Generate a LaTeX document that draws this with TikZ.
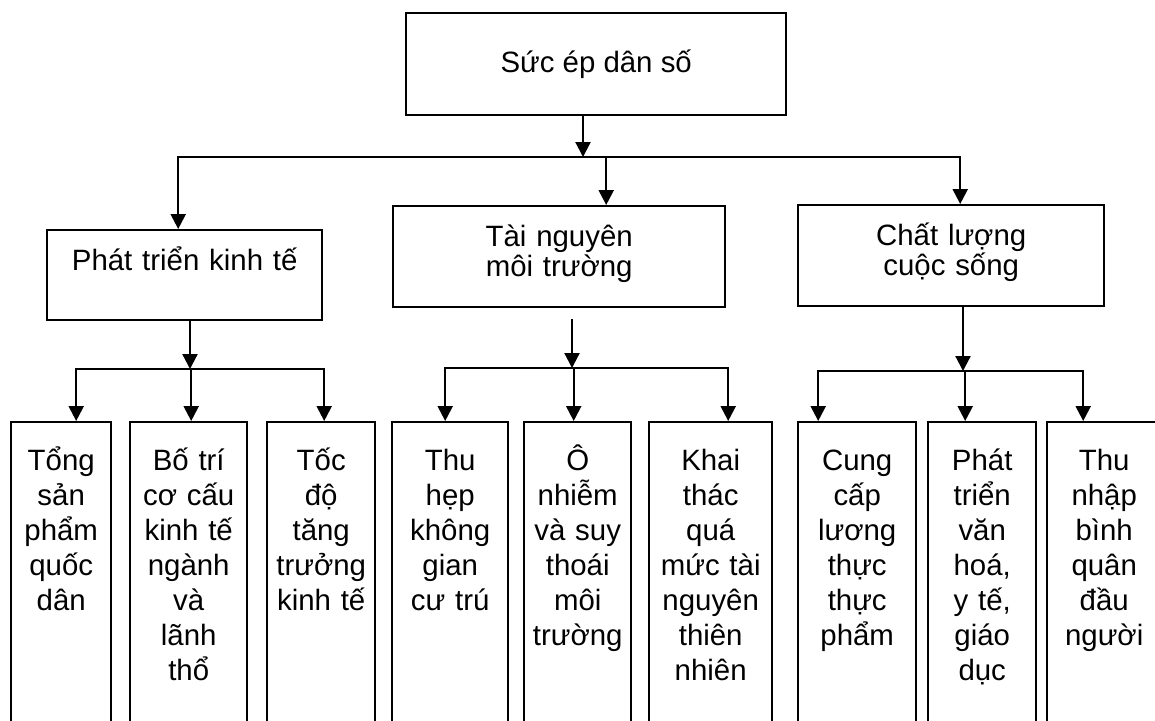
\documentclass[tikz,border=0pt]{standalone}
\usepackage{fontspec}
\setmainfont{Liberation Sans}
\usetikzlibrary{arrows.meta,calc}

\begin{document}
\begin{tikzpicture}[x=0.5pt, y=-0.5pt,
  box/.style={draw, line width=1.2pt, anchor=north west, align=center, inner xsep=0pt},
  rootbox/.style={box, minimum width=190pt, minimum height=51pt, inner sep=0pt, font=\fontsize{14.7}{15}\selectfont},
  midbox/.style={box, inner ysep=9pt, text height=11pt, font=\fontsize{14.7}{15}\selectfont},
  leaf/.style={box, inner ysep=12pt, text height=12pt, text depth=115pt, text width=#1, font=\fontsize{14.7}{17.5}\selectfont},
  arr/.style={line width=1.1pt, -{Triangle[length=7.5pt,width=7.5pt]}}]
\useasboundingbox (0,0) rectangle (1155,720);

\node[rootbox](S)at(405,12){Sức ép dân số};
\node[midbox, text width=137.5pt, text depth=16pt](P)at(46,229){Phát triển kinh tế};
\node[midbox, text width=166pt, text depth=21.5pt](T)at(392,205){Tài nguyên\\môi trường};
\node[midbox, text width=153pt, text depth=21.5pt](C)at(797,204){Chất lượng\\cuộc sống};

\node[leaf=50pt](P1)at(10,421){Tổng\\sản\\phẩm\\quốc\\dân};
\node[leaf=58.5pt](P2)at(129,421){Bố trí\\cơ cấu\\kinh tế\\ngành\\và\\lãnh\\thổ};
\node[leaf=54pt](P3)at(266,421){Tốc\\độ\\tăng\\trưởng\\kinh tế};
\node[leaf=58pt](T1)at(391,421){Thu\\hẹp\\không\\gian\\cư trú};
\node[leaf=53.5pt](T2)at(523,421){Ô\\nhiễm\\và suy\\thoái\\môi\\trường};
\node[leaf=61.5pt](T3)at(648,421){Khai\\thác\\quá\\mức tài\\nguyên\\thiên\\nhiên};
\node[leaf=59pt](C1)at(797,421){Cung\\cấp\\lương\\thực\\thực\\phẩm};
\node[leaf=54pt](C2)at(927,421){Phát\\triển\\văn\\hoá,\\y tế,\\giáo\\dục};
\node[leaf=57pt](C3)at(1046,421){Thu\\nhập\\bình\\quân\\đầu\\người};

\coordinate(J)at(583,157);
\draw[arr](S.south -| J)--(J);
\draw[arr](J)-|([xshift=-3.25pt]P.north);
\draw[arr](J)-|([xshift=23.5pt]T.north);
\draw[arr](J)-|([xshift=4.5pt]C.north);

\coordinate(JP)at(190,369);
\draw[arr](P.south -| JP)--(JP);
\draw[arr](JP)-|([xshift=7.5pt]P1.north);
\draw[arr](JP)-|([xshift=1.25pt]P2.north);
\draw[arr](JP)-|([xshift=1.5pt]P3.north);

\coordinate(JT)at(572,368);
\draw[arr]($(T.south -| JT)+(0,-5.5pt)$)--(JT);
\draw[arr](JT)-|([xshift=-2.5pt]T1.north);
\draw[arr](JT)-|([xshift=-2pt]T2.north);
\draw[arr](JT)-|([xshift=8.75pt]T3.north);

\coordinate(JC)at(963,371);
\draw[arr](C.south -| JC)--(JC);
\draw[arr](JC)-|([xshift=-19.5pt]C1.north);
\draw[arr](JC)-|([xshift=-8.5pt]C2.north);
\draw[arr](JC)-|([xshift=-10.5pt]C3.north);
\end{tikzpicture}
\end{document}
